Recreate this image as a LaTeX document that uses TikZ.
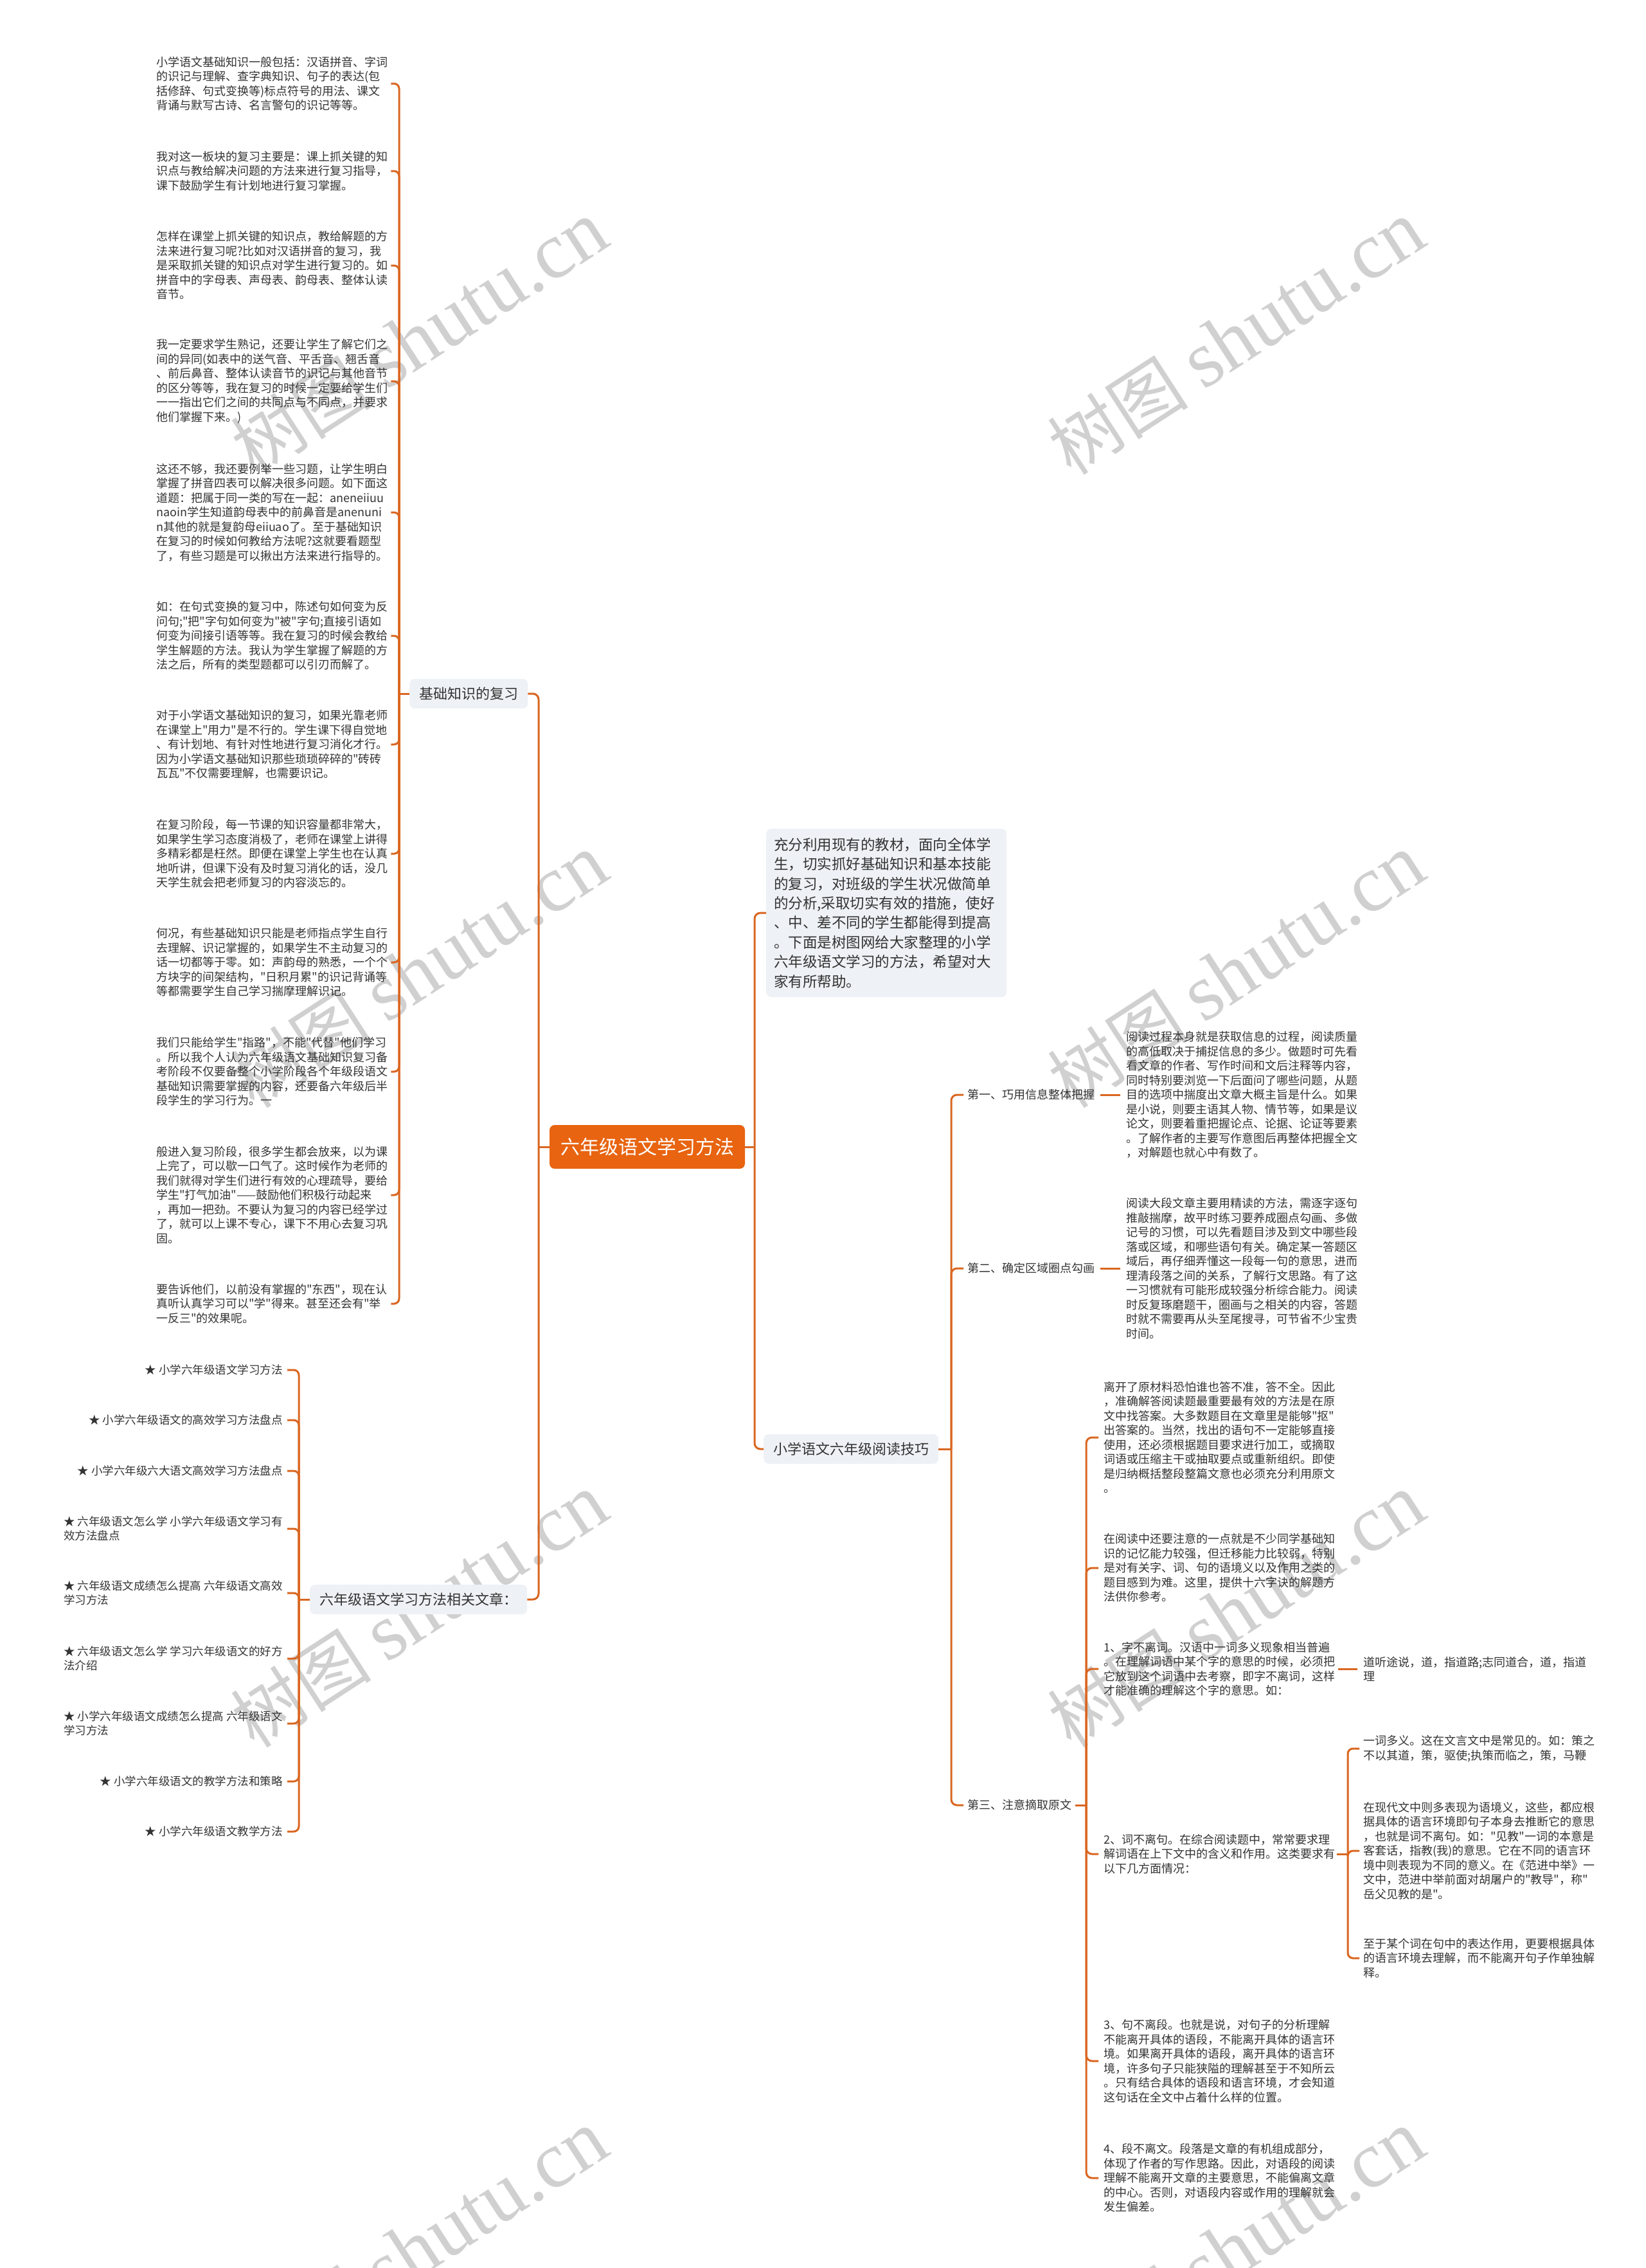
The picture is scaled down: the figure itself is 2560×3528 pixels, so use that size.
\documentclass[tikz,border=0pt]{standalone}
\usepackage{fontspec}
\setmainfont{Noto Sans CJK SC}[Ligatures=TeXOff]
\newfontfamily\wmlatin{Liberation Serif}
\usetikzlibrary{calc}
\definecolor{linec}{RGB}{218,102,32}
\definecolor{rootc}{RGB}{232,100,16}
\definecolor{boxc}{RGB}{238,241,245}
\definecolor{txtc}{RGB}{51,51,51}
\definecolor{wmc}{RGB}{208,208,208}
\begin{document}
\begin{tikzpicture}[x=1pt,y=-1pt,
  conn/.style={draw=linec, line width=3pt, rounded corners=9pt},
  rootbox/.style={fill=rootc, text=white, rounded corners=8pt, font=\fontsize{30}{36}\selectfont, inner xsep=17pt, inner ysep=0pt, minimum height=68pt},
  mainbox/.style={fill=boxc, text=txtc, rounded corners=8pt, font=\fontsize{22}{27}\selectfont, inner xsep=15pt, inner ysep=0pt, minimum height=46pt},
  introbox/.style={fill=boxc, text=txtc, rounded corners=8pt, font=\fontsize{22.5}{30.4}\selectfont, text width=350pt, align=left, inner xsep=12pt, inner ysep=14pt},
  para/.style={text=txtc, font=\fontsize{18}{22.5}\selectfont, text width=360pt, align=left, inner sep=0pt},
  lab/.style={text=txtc, font=\fontsize{18}{22.5}\selectfont, inner sep=0pt},
  rel/.style={text=txtc, font=\fontsize{17.5}{22.4}\selectfont, align=left, inner sep=0pt, anchor=east},
  wm/.style={text=wmc, font=\fontsize{110}{120}\selectfont, rotate=33, inner sep=0pt}
]
\useasboundingbox (0,0) rectangle (2560,3528);
\fill[white] (0,0) rectangle (2560,3528);

% watermarks
\foreach \wx in {652,1923}{
  \foreach \wy in {525,1510,2505,3495}{
    \node[wm] at (\wx,\wy) {树图 {\wmlatin\fontsize{125}{130}\selectfont shutu.cn}};
  }
}

% root
\node[rootbox] (root) at (1007,1784) {六年级语文学习方法};

% left main branches
\node[mainbox, anchor=west] (k1) at (637,1079) {基础知识的复习};
\node[mainbox, anchor=west] (rel) at (482,2488) {六年级语文学习方法相关文章：};

% left knowledge blocks
\node[para, anchor=west] (b1) at (243,130) {小学语文基础知识一般包括：汉语拼音、字词\\的识记与理解、查字典知识、句子的表达(包\\括修辞、句式变换等)标点符号的用法、课文\\背诵与默写古诗、名言警句的识记等等。};
\node[para, anchor=west] (b2) at (243,266) {我对这一板块的复习主要是：课上抓关键的知\\识点与教给解决问题的方法来进行复习指导，\\课下鼓励学生有计划地进行复习掌握。};
\node[para, anchor=west] (b3) at (243,413) {怎样在课堂上抓关键的知识点，教给解题的方\\法来进行复习呢?比如对汉语拼音的复习，我\\是采取抓关键的知识点对学生进行复习的。如\\拼音中的字母表、声母表、韵母表、整体认读\\音节。};
\node[para, anchor=west] (b4) at (243,593) {我一定要求学生熟记，还要让学生了解它们之\\间的异同(如表中的送气音、平舌音、翘舌音\\、前后鼻音、整体认读音节的识记与其他音节\\的区分等等，我在复习的时候一定要给学生们\\一一指出它们之间的共同点与不同点，并要求\\他们掌握下来。)};
\node[para, anchor=west] (b5) at (243,797) {这还不够，我还要例举一些习题，让学生明白\\掌握了拼音四表可以解决很多问题。如下面这\\道题：把属于同一类的写在一起：aneneiiuu\\naoin学生知道韵母表中的前鼻音是anenuni\\n其他的就是复韵母eiiuao了。至于基础知识\\在复习的时候如何教给方法呢?这就要看题型\\了，有些习题是可以揪出方法来进行指导的。};
\node[para, anchor=west] (b6) at (243,989) {如：在句式变换的复习中，陈述句如何变为反\\问句;"把"字句如何变为"被"字句;直接引语如\\何变为间接引语等等。我在复习的时候会教给\\学生解题的方法。我认为学生掌握了解题的方\\法之后，所有的类型题都可以引刃而解了。};
\node[para, anchor=west] (b7) at (243,1158) {对于小学语文基础知识的复习，如果光靠老师\\在课堂上"用力"是不行的。学生课下得自觉地\\、有计划地、有针对性地进行复习消化才行。\\因为小学语文基础知识那些琐琐碎碎的"砖砖\\瓦瓦"不仅需要理解，也需要识记。};
\node[para, anchor=west] (b8) at (243,1328) {在复习阶段，每一节课的知识容量都非常大，\\如果学生学习态度消极了，老师在课堂上讲得\\多精彩都是枉然。即便在课堂上学生也在认真\\地听讲，但课下没有及时复习消化的话，没几\\天学生就会把老师复习的内容淡忘的。};
\node[para, anchor=west] (b9) at (243,1497) {何况，有些基础知识只能是老师指点学生自行\\去理解、识记掌握的，如果学生不主动复习的\\话一切都等于零。如：声韵母的熟悉，一个个\\方块字的间架结构，"日积月累"的识记背诵等\\等都需要学生自己学习揣摩理解识记。};
\node[para, anchor=west] (b10) at (243,1667) {我们只能给学生"指路"，不能"代替"他们学习\\。所以我个人认为六年级语文基础知识复习备\\考阶段不仅要备整个小学阶段各个年级段语文\\基础知识需要掌握的内容，还要备六年级后半\\段学生的学习行为。一};
\node[para, anchor=west] (b11) at (243,1859) {般进入复习阶段，很多学生都会放来，以为课\\上完了，可以歇一口气了。这时候作为老师的\\我们就得对学生们进行有效的心理疏导，要给\\学生"打气加油"——鼓励他们积极行动起来\\，再加一把劲。不要认为复习的内容已经学过\\了，就可以上课不专心，课下不用心去复习巩\\固。};
\node[para, anchor=west] (b12) at (243,2028) {要告诉他们，以前没有掌握的"东西"，现在认\\真听认真学习可以"学"得来。甚至还会有"举\\一反三"的效果呢。};

% related articles
\node[rel] (r1) at (440,2131) {★ 小学六年级语文学习方法};
\node[rel] (r2) at (440,2209) {★ 小学六年级语文的高效学习方法盘点};
\node[rel] (r3) at (440,2288) {★ 小学六年级六大语文高效学习方法盘点};
\node[rel] (r4) at (440,2378) {★ 六年级语文怎么学 小学六年级语文学习有\\效方法盘点};
\node[rel] (r5) at (440,2478) {★ 六年级语文成绩怎么提高 六年级语文高效\\学习方法};
\node[rel] (r6) at (440,2580) {★ 六年级语文怎么学 学习六年级语文的好方\\法介绍};
\node[rel] (r7) at (440,2681) {★ 小学六年级语文成绩怎么提高 六年级语文\\学习方法};
\node[rel] (r8) at (440,2771) {★ 小学六年级语文的教学方法和策略};
\node[rel] (r9) at (440,2849) {★ 小学六年级语文教学方法};

% right main branches
\node[introbox, anchor=north west] (intro) at (1192,1289) {充分利用现有的教材，面向全体学\\生，切实抓好基础知识和基本技能\\的复习，对班级的学生状况做简单\\的分析,采取切实有效的措施，使好\\、中、差不同的学生都能得到提高\\。下面是树图网给大家整理的小学\\六年级语文学习的方法，希望对大\\家有所帮助。};
\node[mainbox, anchor=west] (read) at (1188,2254) {小学语文六年级阅读技巧};

% reading labels
\node[lab, anchor=west] (L1) at (1505,1703) {第一、巧用信息整体把握};
\node[lab, anchor=west] (L2) at (1505,1973) {第二、确定区域圈点勾画};
\node[lab, anchor=west] (L3) at (1505,2808) {第三、注意摘取原文};

\node[para, anchor=west] (T1) at (1752,1703) {阅读过程本身就是获取信息的过程，阅读质量\\的高低取决于捕捉信息的多少。做题时可先看\\看文章的作者、写作时间和文后注释等内容，\\同时特别要浏览一下后面问了哪些问题，从题\\目的选项中揣度出文章大概主旨是什么。如果\\是小说，则要主语其人物、情节等，如果是议\\论文，则要着重把握论点、论据、论证等要素\\。了解作者的主要写作意图后再整体把握全文\\，对解题也就心中有数了。};
\node[para, anchor=west] (T2) at (1752,1973) {阅读大段文章主要用精读的方法，需逐字逐句\\推敲揣摩，故平时练习要养成圈点勾画、多做\\记号的习惯，可以先看题目涉及到文中哪些段\\落或区域，和哪些语句有关。确定某一答题区\\域后，再仔细弄懂这一段每一句的意思，进而\\理清段落之间的关系，了解行文思路。有了这\\一习惯就有可能形成较强分析综合能力。阅读\\时反复琢磨题干，圈画与之相关的内容，答题\\时就不需要再从头至尾搜寻，可节省不少宝贵\\时间。};

% third branch items
\node[para, anchor=west] (ta) at (1717,2236) {离开了原材料恐怕谁也答不准，答不全。因此\\，准确解答阅读题最重要最有效的方法是在原\\文中找答案。大多数题目在文章里是能够"抠"\\出答案的。当然，找出的语句不一定能够直接\\使用，还必须根据题目要求进行加工，或摘取\\词语或压缩主干或抽取要点或重新组织。即使\\是归纳概括整段整篇文意也必须充分利用原文\\。};
\node[para, anchor=west] (tb) at (1717,2439) {在阅读中还要注意的一点就是不少同学基础知\\识的记忆能力较强，但迁移能力比较弱，特别\\是对有关字、词、句的语境义以及作用之类的\\题目感到为难。这里，提供十六字诀的解题方\\法供你参考。};
\node[para, anchor=west] (tc) at (1717,2596) {1、字不离词。汉语中一词多义现象相当普遍\\。在理解词语中某个字的意思的时候，必须把\\它放到这个词语中去考察，即字不离词，这样\\才能准确的理解这个字的意思。如：};
\node[para, anchor=west] (td) at (1717,2884) {2、词不离句。在综合阅读题中，常常要求理\\解词语在上下文中的含义和作用。这类要求有\\以下几方面情况：};
\node[para, anchor=west] (te) at (1717,3206) {3、句不离段。也就是说，对句子的分析理解\\不能离开具体的语段，不能离开具体的语言环\\境。如果离开具体的语段，离开具体的语言环\\境，许多句子只能狭隘的理解甚至于不知所云\\。只有结合具体的语段和语言环境，才会知道\\这句话在全文中占着什么样的位置。};
\node[para, anchor=west] (tf) at (1717,3388) {4、段不离文。段落是文章的有机组成部分，\\体现了作者的写作思路。因此，对语段的阅读\\理解不能离开文章的主要意思，不能偏离文章\\的中心。否则，对语段内容或作用的理解就会\\发生偏差。};

\node[para, anchor=west] (c1) at (2121,2596) {道听途说，道，指道路;志同道合，道，指道\\理};
\node[para, anchor=west] (d1) at (2121,2720) {一词多义。这在文言文中是常见的。如：策之\\不以其道，策，驱使;执策而临之，策，马鞭};
\node[para, anchor=west] (d2) at (2121,2879) {在现代文中则多表现为语境义，这些，都应根\\据具体的语言环境即句子本身去推断它的意思\\，也就是词不离句。如："见教"一词的本意是\\客套话，指教(我)的意思。它在不同的语言环\\境中则表现为不同的意义。在《范进中举》一\\文中，范进中举前面对胡屠户的"教导"，称"\\岳父见教的是"。};
\node[para, anchor=west] (d3) at (2121,3046) {至于某个词在句中的表达作用，更要根据具体\\的语言环境去理解，而不能离开句子作单独解\\释。};

% trunk coordinates
\coordinate (RL) at (838,1784);
\coordinate (RR) at (1174,1784);
\coordinate (KT) at (621,1079);
\coordinate (RT) at (465,2488);
\coordinate (RdT) at (1480,2254);
\coordinate (TT) at (1690,2808);
\coordinate (DT) at (2097,2884);

% connectors
\draw[conn] (root.west) -- (RL);
\draw[conn] (RL) |- (k1.east);
\draw[conn] (RL) |- (rel.east);
\draw[conn] (root.east) -- (RR);
\draw[conn] (RR) |- (intro.west);
\draw[conn] (RR) |- (read.west);

\draw[conn] (k1.west) -- (KT);
\foreach \i in {1,...,12}{
  \draw[conn, rounded corners=8pt] (KT) |- ($(b\i.east)+(5,0)$);
}

\draw[conn] (rel.west) -- (RT);
\foreach \i in {1,...,9}{
  \draw[conn, rounded corners=8pt] (RT) |- ($(r\i.east)+(7,0)$);
}

\draw[conn] (read.east) -- (RdT);
\foreach \n in {L1,L2,L3}{
  \draw[conn] (RdT) |- ($(\n.west)+(-6,0)$);
}
\draw[conn] ($(L1.east)+(9,0)$) -- ($(T1.west)+(-9,0)$);
\draw[conn] ($(L2.east)+(9,0)$) -- ($(T2.west)+(-9,0)$);
\draw[conn] ($(L3.east)+(6,0)$) -- (TT);
\foreach \n in {ta,tb,tc,td,te,tf}{
  \draw[conn] (TT) |- ($(\n.west)+(-8,0)$);
}
\draw[conn] ($(tc.east)+(5,0)$) -- ($(c1.west)+(-9,0)$);
\draw[conn] ($(td.east)+(3,0)$) -- (DT);
\foreach \n in {d1,d2,d3}{
  \draw[conn, rounded corners=8pt] (DT) |- ($(\n.west)+(-6,0)$);
}
\end{tikzpicture}
\end{document}
